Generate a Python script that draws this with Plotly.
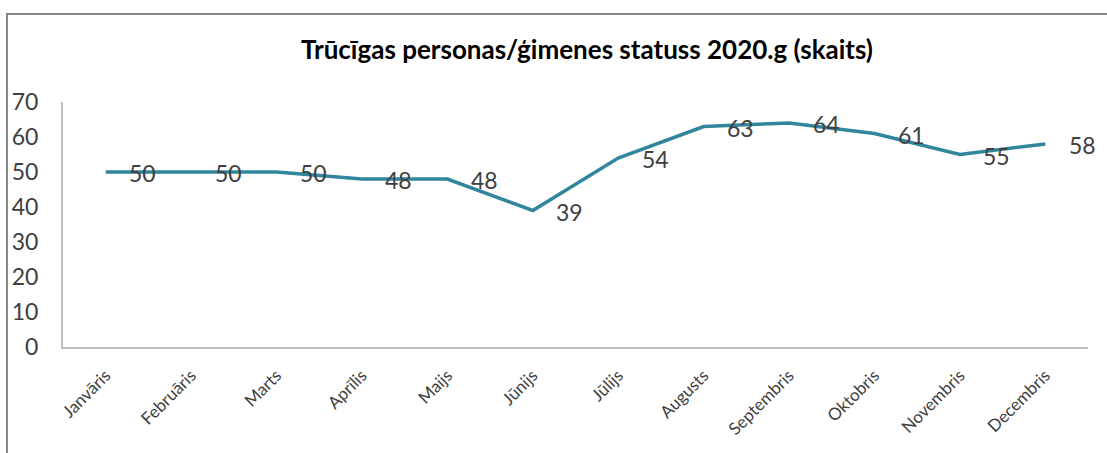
import plotly.graph_objects as go

months = ["Janvāris", "Februāris", "Marts", "Aprīlis", "Maijs", "Jūnijs",
          "Jūlijs", "Augusts", "Septembris", "Oktobris", "Novembris", "Decembris"]
values = [50, 50, 50, 48, 48, 39, 54, 63, 64, 61, 55, 58]
y_ticks = [0, 10, 20, 30, 40, 50, 60, 70]
title_text = "Trūcīgas personas/ģimenes statuss 2020.g (skaits)"

W, H = 1107, 453
L, R, T, B = 63, 19, 102, 106
pw, ph = W - L - R, H - T - B

fig = go.Figure()
fig.add_trace(go.Scatter(
    x=list(range(len(months))), y=values, mode="lines",
    line=dict(color="#31859C", width=3.5), hoverinfo="skip", showlegend=False,
))

for i, v in enumerate(values):
    fig.add_annotation(x=i, y=v, xref="x", yref="y", text=str(v), showarrow=False,
                       xshift=37, yshift=-1,
                       font=dict(family="Lato", size=23, color="#404040"))

fig.add_annotation(xref="paper", yref="paper", x=(587 - L) / pw, y=(H - B - 49) / ph,
                   text="<b>" + title_text + "</b>", showarrow=False,
                   xanchor="center", yanchor="middle",
                   font=dict(family="Lato", size=26, color="#000000"))

# outer frame
fig.add_shape(type="rect", xref="paper", yref="paper",
              x0=(7 - L) / pw, x1=(W + 5 - L) / pw,
              y0=(H - B - (H + 10)) / ph, y1=(H - B - 14) / ph,
              line=dict(color="#868686", width=2), layer="below")

fig.update_layout(
    width=W, height=H,
    margin=dict(l=L, r=R, t=T, b=B, pad=0, autoexpand=False),
    paper_bgcolor="white", plot_bgcolor="white",
    xaxis=dict(
        range=[-0.5, len(months) - 0.5], automargin=False,
        tickmode="array", tickvals=list(range(len(months))), ticktext=months,
        tickangle=-45, showgrid=False, zeroline=False,
        showline=True, linecolor="#BFBFBF", linewidth=2,
        ticks="", tickfont=dict(family="Lato", size=17, color="#404040"),
        ticklabelstandoff=10,
    ),
    yaxis=dict(
        range=[0, 70], tickmode="array", tickvals=y_ticks, automargin=False,
        showgrid=False, zeroline=False,
        showline=True, linecolor="#BFBFBF", linewidth=2,
        ticks="", tickfont=dict(family="Lato", size=23, color="#404040"),
        ticklabelstandoff=18,
    ),
)

fig.write_html("out.html", config={"displayModeBar": False},
               post_script="document.body.style.margin='0';document.body.style.overflow='hidden';")
